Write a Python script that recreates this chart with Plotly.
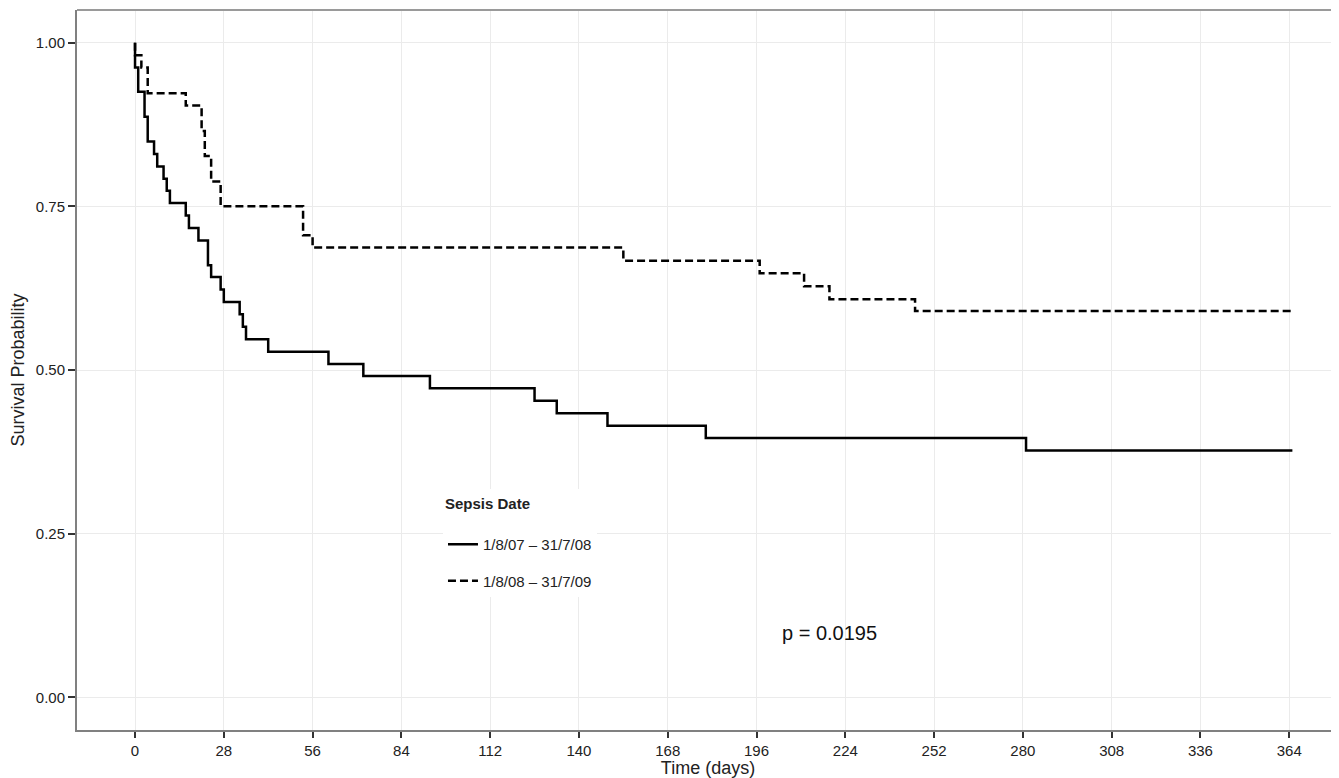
import plotly.graph_objects as go

# Kaplan-Meier steps
group_names = ["1/8/07 – 31/7/08", "1/8/08 – 31/7/09"]

solid_time = [0, 0, 1, 3, 4, 6, 7, 9, 10, 11, 16, 17, 20, 23, 24, 27, 28, 33, 34, 35,
              42, 61, 72, 93, 126, 133, 149, 180, 281, 365]
solid_surv = [1.0, 0.962, 0.925, 0.887, 0.849, 0.830, 0.811, 0.792, 0.774, 0.755,
              0.736, 0.717, 0.698, 0.660, 0.642, 0.623, 0.604, 0.585, 0.566, 0.547,
              0.528, 0.509, 0.491, 0.472, 0.453, 0.434, 0.415, 0.396, 0.377, 0.377]

dashed_time = [0, 0, 2, 4, 16, 21, 22, 24, 27, 53, 56, 154, 197, 211, 219, 246, 365]
dashed_surv = [1.0, 0.981, 0.962, 0.923, 0.904, 0.865, 0.827, 0.788, 0.750, 0.706,
               0.687, 0.667, 0.648, 0.628, 0.608, 0.590, 0.590]

x_ticks = list(range(0, 365, 28))
y_ticks = [0.0, 0.25, 0.5, 0.75, 1.0]
p_text = "p = 0.0195"

FONT = "Liberation Sans, Arial, Helvetica, sans-serif"

fig = go.Figure()
fig.add_trace(go.Scatter(
    x=solid_time, y=solid_surv, mode="lines", line_shape="hv",
    name=group_names[0], legendgroup="g1",
    line=dict(color="black", width=2.5),
))
fig.add_trace(go.Scatter(
    x=dashed_time, y=dashed_surv, mode="lines", line_shape="hv",
    name=group_names[1], legendgroup="g2",
    line=dict(color="black", width=2.5, dash="8px,4px"),
))

fig.add_annotation(
    x=219, y=0.098, xref="x", yref="y", text=p_text, showarrow=False,
    font=dict(family=FONT, size=20, color="#111111"),
)

# top border of panel
fig.add_shape(type="line", xref="paper", yref="paper", x0=0, x1=1, y0=1, y1=1,
              line=dict(color="#9a9a9a", width=2))

fig.update_layout(
    width=1331, height=770, autosize=False,
    margin=dict(l=69, r=0, t=2, b=48),
    paper_bgcolor="white", plot_bgcolor="white",
    font=dict(family=FONT, color="#222222"),
    showlegend=True,
    legend=dict(
        x=0.290, y=0.3347, xanchor="left", yanchor="top",
        bgcolor="white", borderwidth=0,
        title=dict(text="<b>Sepsis Date</b><br> ", font=dict(family=FONT, size=15, color="#222222")),
        font=dict(family=FONT, size=15, color="#222222"),
        tracegroupgap=14, traceorder="grouped",
    ),
    xaxis=dict(
        range=[-18.3, 379.7], tickmode="array", tickvals=x_ticks,
        ticktext=[str(v) for v in x_ticks],
        showgrid=True, gridcolor="#ebebeb", gridwidth=1, zeroline=False,
        showline=True, linecolor="#808080", linewidth=2,
        ticks="outside", ticklen=6, tickwidth=1.5, tickcolor="#333333",
        tickfont=dict(family=FONT, size=15, color="#222222"),
        title=dict(text="Time (days)", font=dict(family=FONT, size=18, color="#222222"), standoff=2),
    ),
    yaxis=dict(
        range=[-0.05, 1.05], tickmode="array", tickvals=y_ticks,
        ticktext=[f"{v:.2f}" for v in y_ticks],
        showgrid=True, gridcolor="#ebebeb", gridwidth=1, zeroline=False,
        showline=True, linecolor="#808080", linewidth=2,
        ticks="outside", ticklen=7, tickwidth=1.5, tickcolor="#333333",
        tickfont=dict(family=FONT, size=15, color="#222222"),
        title=dict(text="Survival Probability", font=dict(family=FONT, size=18, color="#222222"), standoff=6),
    ),
)

fig.write_html("out.html")
